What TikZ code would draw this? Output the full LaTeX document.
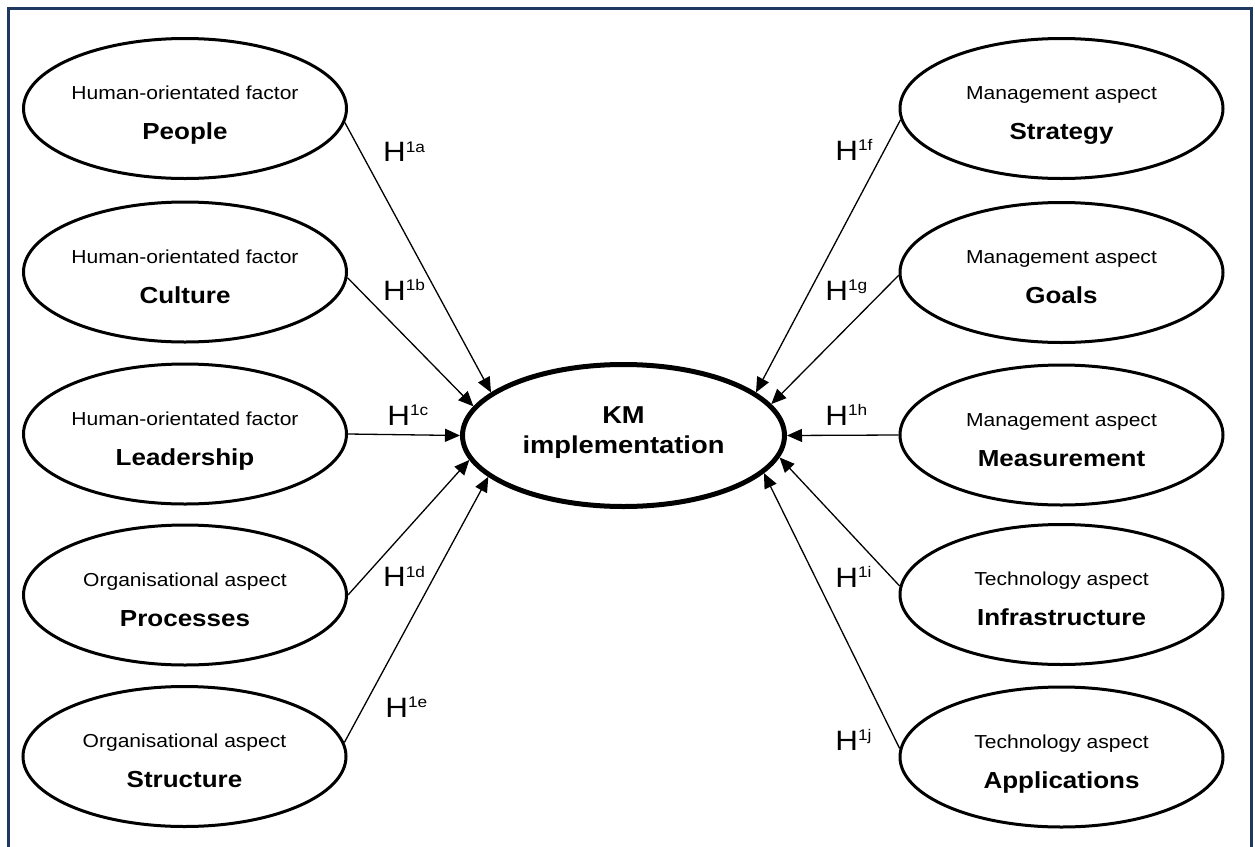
\documentclass[tikz,border=0pt]{standalone}
\usepackage{fontspec}
\setmainfont{Liberation Sans}[FakeStretch=1.12]
\usetikzlibrary{shapes.geometric,arrows.meta,calc}
\definecolor{framenavy}{RGB}{31,56,96}
\tikzset{
  factor/.style={ellipse, draw, line width=1.5pt, minimum width=161.5pt,
                 minimum height=70pt, inner sep=0pt},
  core/.style={ellipse, draw, line width=2.5pt, minimum width=161pt,
               minimum height=71pt, inner sep=0pt},
  kind/.style={font=\fontsize{9.4}{11}\selectfont, anchor=base, inner sep=0pt},
  title/.style={font=\fontsize{11.6}{13}\selectfont\bfseries, anchor=base, inner sep=0pt},
  coretext/.style={font=\fontsize{12.2}{14}\selectfont\bfseries, anchor=base, inner sep=0pt},
  hyp/.style={font=\fontsize{14}{16}\selectfont, anchor=base west, inner sep=0pt},
  link/.style={line width=0.65pt, -{Triangle[length=7.5pt,width=6.5pt]}},
  frameline/.style={draw=framenavy, line width=1.8pt},
}
% factor ellipse with its category line and its bold name
\newcommand\factornode[5]{%
  \node[factor] (#1) at (#2,#3) {};
  \node[kind] (#1-kind) at ($(#1)+(0,-9)$) {#4};
  \node[title] (#1-title) at ($(#1)+(0,31)$) {#5};
}
% hypothesis label H with a raised index
\newcommand\hyplabel[4]{%
  \node[hyp] (#1) at (#2,#3) {H\raisebox{4.7pt}{\fontsize{7.7}{8}\selectfont 1#4}};
}
\begin{document}
\begin{tikzpicture}[x=0.5pt, y=-0.5pt]
  \useasboundingbox (0,0) rectangle (1255,847);

  % open frame (no bottom edge)
  \draw[frameline] (8.5,860) -- (8.5,8.5) -- (1251.5,8.5) -- (1251.5,860);

  % central construct
  \node[core] (km) at (623.5,435.5) {};
  \node[coretext] (km-top) at ($(km)+(0,-12.5)$) {KM};
  \node[coretext] (km-bottom) at ($(km)+(0,17.5)$) {implementation};

  % left column
  \factornode{people}{185}{108.5}{Human-orientated factor}{People}
  \factornode{culture}{185}{272}{Human-orientated factor}{Culture}
  \factornode{leadership}{185}{434}{Human-orientated factor}{Leadership}
  \factornode{processes}{185}{595}{Organisational aspect}{Processes}
  \factornode{structure}{184.5}{756.5}{Organisational aspect}{Structure}

  % right column
  \factornode{strategy}{1061.5}{108.5}{Management aspect}{Strategy}
  \factornode{goals}{1061.5}{272.5}{Management aspect}{Goals}
  \factornode{measurement}{1061.5}{435}{Management aspect}{Measurement}
  \factornode{infrastructure}{1061.5}{594.5}{Technology aspect}{Infrastructure}
  \factornode{applications}{1061.5}{757}{Technology aspect}{Applications}

  % hypothesised links
  \draw[link] (people.355) -- (km.162);
  \draw[link] (culture.358) -- (km.169.7);
  \draw[link] (leadership.east) -- (km.west);
  \draw[link] (processes.0.7) -- (km.189.1);
  \draw[link] (structure.5.7) -- (km.197.2);
  \draw[link] (strategy.184) -- (km.18);
  \draw[link] (goals.181.5) -- (km.12.4);
  \draw[link] (measurement.west) -- (km.east);
  \draw[link] (infrastructure.177.4) -- (km.352.1);
  \draw[link] (applications.177.6) -- (km.345.6);

  % hypothesis labels
  \hyplabel{h1a}{382.7}{161.7}{a}
  \hyplabel{h1b}{382.7}{300}{b}
  \hyplabel{h1c}{387}{425}{c}
  \hyplabel{h1d}{382.7}{586.7}{d}
  \hyplabel{h1e}{385}{717}{e}
  \hyplabel{h1f}{835}{160}{f}
  \hyplabel{h1g}{825}{300}{g}
  \hyplabel{h1h}{825}{425}{h}
  \hyplabel{h1i}{835}{587}{i}
  \hyplabel{h1j}{835}{750}{j}
\end{tikzpicture}
\end{document}
